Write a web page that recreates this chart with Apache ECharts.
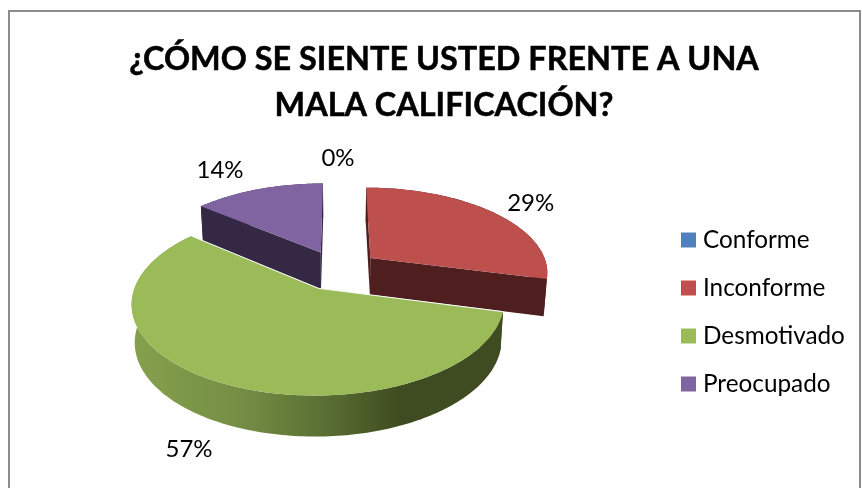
<!DOCTYPE html>
<html><head><meta charset="utf-8">
<style>html,body{margin:0;padding:0;background:#fff}#c{width:862px;height:488px}</style>
<script src="https://cdn.jsdelivr.net/npm/echarts@6/dist/echarts.min.js"></script>
</head><body><div id="c"></div>
<script>
const TITLE = '¿CÓMO SE SIENTE USTED FRENTE A UNA\nMALA CALIFICACIÓN?';
const categories = ['Conforme', 'Inconforme', 'Desmotivado', 'Preocupado'];
const values = [0, 29, 57, 14];
const colors = ['#4f81bd', '#c0504d', '#9bbb59', '#8064a2'];

// 3D projection of the exploded pie (layout constants)
const CX = 338, CY = 270, RX = 178, RY = 84.6, PERSP = 0.153, EXPLODE = 0.235, DEPTH = 37, BOTTOM_SHRINK = 0.985;
const LABEL_NUDGE = [[0, -24], [37, -9], [-29, 67], [-38, -19]];
const total = values.reduce((a, b) => a + b, 0);

function project(X, Y, low) {
  const s = 1 / (1 + PERSP * Y);
  const k = low ? BOTTOM_SHRINK : 1;
  return [CX + X * RX * s * k, CY - Y * RY * s + (low ? DEPTH * Math.sqrt(s) : 0)];
}
function sliceAngles(i) {
  let before = 0;
  for (let j = 0; j < i; j++) before += values[j];
  const a0 = before / total * 2 * Math.PI;
  const a1 = (before + values[i]) / total * 2 * Math.PI;
  return [a0, a1, (a0 + a1) / 2];
}
function rimPoint(i, t, low) {
  const m = sliceAngles(i)[2];
  return project(EXPLODE * Math.sin(m) + Math.sin(t), EXPLODE * Math.cos(m) + Math.cos(t), low);
}
function apexPoint(i, low) {
  const m = sliceAngles(i)[2];
  return project(EXPLODE * Math.sin(m), EXPLODE * Math.cos(m), low);
}
function rimSamples(a0, a1) {
  const n = Math.max(2, Math.ceil((a1 - a0) / 0.02));
  const out = [];
  for (let k = 0; k <= n; k++) out.push(a0 + (a1 - a0) * k / n);
  return out;
}
const wallFills = [
  '#385d8a',
  '#4f1f1f',
  new echarts.graphic.LinearGradient(131, 0, 505, 0, [
    { offset: 0, color: '#86a14d' },
    { offset: 0.3, color: '#748d44' },
    { offset: 0.55, color: '#566a30' },
    { offset: 0.72, color: '#3f4b20' },
    { offset: 1, color: '#3f4b20' }
  ], true),
  '#352845'
];
const topFills = ['#4f81bd', '#bd4f4d', '#9bbb59', '#8064a2'];

function makeRender(i) {
  return function () {
    const [a0, a1, m] = sliceAngles(i);
    const children = [];
    if (values[i] > 0) {
      const ts = rimSamples(a0, a1);
      const topRim = ts.map(t => rimPoint(i, t, false));
      const lowRim = ts.map(t => rimPoint(i, t, true));
      const apexT = apexPoint(i, false), apexL = apexPoint(i, true);
      const wall = { fill: wallFills[i] };
      children.push({ type: 'polygon', shape: { points: [apexT, topRim[0], lowRim[0], apexL] }, style: wall });
      children.push({ type: 'polygon', shape: { points: [apexT, topRim[topRim.length - 1], lowRim[lowRim.length - 1], apexL] }, style: wall });
      children.push({ type: 'polygon', shape: { points: topRim.concat(lowRim.slice().reverse()) }, style: wall });
      children.push({ type: 'polygon', shape: { points: [apexT].concat(topRim) }, style: { fill: topFills[i] } });
      if (i === 2) {
        children.push({ type: 'polyline', shape: { points: [topRim[0], apexT, topRim[topRim.length - 1]] },
          style: { stroke: '#ffffff', lineWidth: 1, fill: 'none' } });
      }
    }
    const anchor = rimPoint(i, m, false);
    children.push({
      type: 'text',
      style: {
        text: Math.round(values[i] / total * 100) + '%',
        x: anchor[0] + LABEL_NUDGE[i][0], y: anchor[1] + LABEL_NUDGE[i][1],
        align: 'center', verticalAlign: 'middle',
        font: '24px Lato', fill: '#000'
      }
    });
    return { type: 'group', children };
  };
}
// painter's order: back slices first, the big front slice last
const drawOrder = [0, 3, 1, 2];
const chart = echarts.init(document.getElementById('c'), null, { renderer: 'canvas' });
chart.setOption({
  animation: false,
  backgroundColor: '#fff',
  title: {
    text: TITLE, left: 439, top: 32, textAlign: 'center',
    textStyle: { fontFamily: 'Lato', fontWeight: 'bold', fontSize: 32.4, lineHeight: 46, color: '#000', textBorderColor: '#000', textBorderWidth: 0.5 }
  },
  legend: {
    orient: 'vertical', left: 676, top: 220, icon: 'rect',
    itemWidth: 15, itemHeight: 15, itemGap: 18, selectedMode: false,
    data: categories,
    textStyle: { fontFamily: 'Lato', fontSize: 24.3, lineHeight: 30, color: '#000', padding: [0, 0, 0, 2] }
  },
  graphic: [{ type: 'rect', shape: { x: 9, y: 11, width: 851, height: 480 }, style: { fill: 'none', stroke: '#8c8c8c', lineWidth: 2 }, silent: true }],
  series: drawOrder.map(i => ({
    type: 'custom', name: categories[i], coordinateSystem: 'none', silent: true,
    itemStyle: { color: colors[i] }, data: [[values[i]]], renderItem: makeRender(i)
  }))
});
</script></body></html>
